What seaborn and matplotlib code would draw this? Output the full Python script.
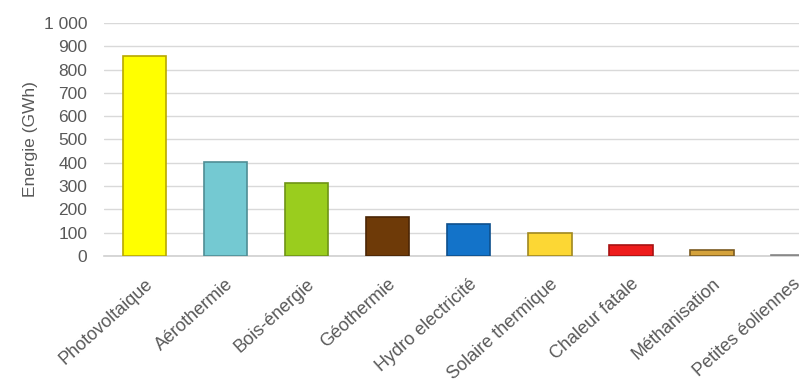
import matplotlib
matplotlib.use("Agg")
import matplotlib.pyplot as plt
import seaborn as sns
import pandas as pd

categories = ["Photovoltaique", "Aérothermie", "Bois-énergie", "Géothermie",
              "Hydro electricité", "Solaire thermique", "Chaleur fatale",
              "Méthanisation", "Petites éoliennes"]
values = [858, 405, 314, 166, 135, 100, 47, 25, 2]
colors = ["#FFFF00", "#74C9D2", "#9ACD1E", "#6E3A08", "#1373C9",
          "#FCD734", "#EE1C1C", "#D4A23C", "#B0B0B0"]
edges = ["#B8A800", "#4F8E95", "#6E9415", "#4A2505", "#0D4F8C",
         "#A08820", "#A81212", "#7A5A20", "#888888"]
yticks = [0, 100, 200, 300, 400, 500, 600, 700, 800, 900, 1000]
ytick_labels = ["0", "100", "200", "300", "400", "500", "600", "700", "800", "900", "1 000"]

sns.set_theme(style="white")
plt.rcParams["font.family"] = ["Liberation Sans", "DejaVu Sans"]

df = pd.DataFrame({"cat": categories, "val": values})

fig = plt.figure(figsize=(7.99, 3.83), dpi=100)
ax = fig.add_axes([0.130, 0.332, 0.913, 0.608])

sns.barplot(data=df, x="cat", y="val", hue="cat", palette=colors,
            legend=False, width=0.54, ax=ax, zorder=3, saturation=1)
for patch, ec in zip(ax.patches, edges):
    patch.set_edgecolor(ec)
    patch.set_linewidth(1.2)

ax.set_ylim(0, 1000)
ax.set_xlim(-0.5, len(categories) - 0.5)
ax.set_yticks(yticks)
ax.set_yticklabels(ytick_labels)
ax.yaxis.grid(True, color="#D9D9D9", linewidth=1.0, zorder=0)
ax.set_axisbelow(True)
for s in ["top", "right", "left"]:
    ax.spines[s].set_visible(False)
ax.spines["bottom"].set_color("#D0D0D0")
ax.spines["bottom"].set_linewidth(1.2)

ax.tick_params(axis="y", colors="#595959", labelsize=12.5, length=0, pad=12)
ax.tick_params(axis="x", colors="#595959", labelsize=13, length=0, pad=14)
plt.setp(ax.get_xticklabels(), rotation=42, ha="right", rotation_mode="anchor")
ax.set_xlabel("")
ax.set_ylabel("Energie (GWh)", color="#595959", fontsize=12.5, labelpad=4)

fig.savefig("out.png", dpi=100)
